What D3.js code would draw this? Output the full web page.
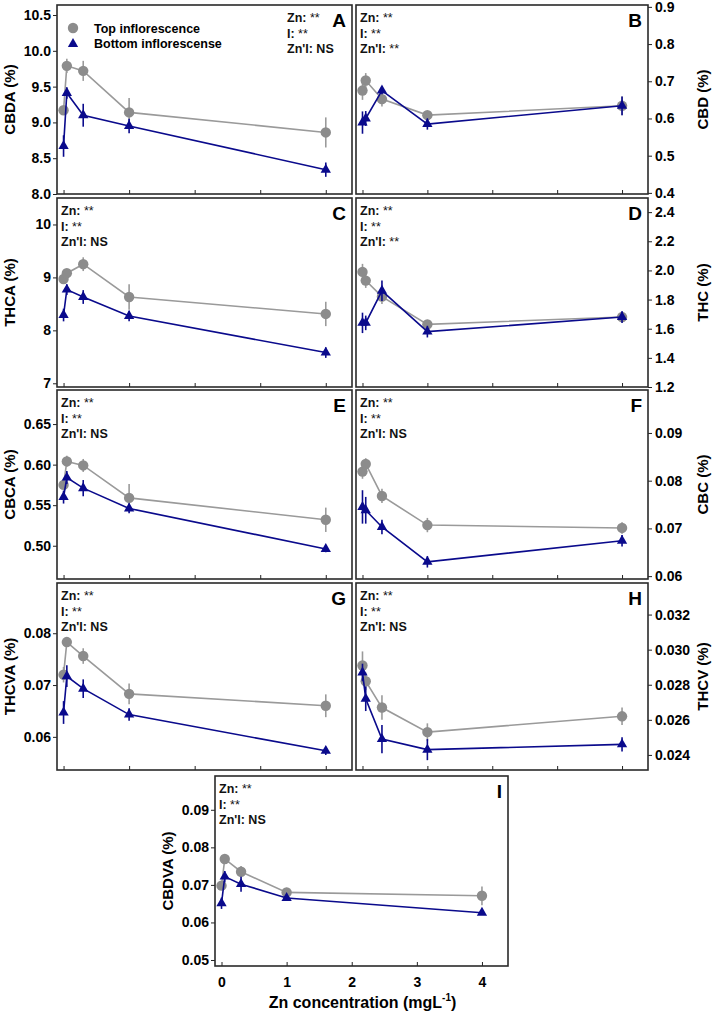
<!DOCTYPE html>
<meta charset="utf-8">
<style>
  body { margin: 0; background: #fff; }
  svg { display: block; font-family: "Liberation Sans", Arial, sans-serif; }
  .tick text { font-size: 14px; font-weight: bold; fill: #000; }
  .tick line { stroke: #222; }
</style>
<body>
<svg id="chart" width="717" height="1015"></svg>
<script src="https://d3js.org/d3.v7.min.js"></script>
<script>
  // Zn concentration levels (mg/L) and x tick labels
  const zn = [0, 0.05, 0.3, 1, 4];
  const xTicks = [0, 1, 2, 3, 4];

  // A: CBDA
  const cbdaTop = [9.17, 9.79, 9.72, 9.14, 8.86];
  const cbdaTopErr = [0.05, 0.10, 0.14, 0.20, 0.21];
  const cbdaBot = [8.67, 9.41, 9.10, 8.95, 8.34];
  const cbdaBotErr = [0.15, 0.08, 0.16, 0.10, 0.10];
  const cbdaTicks = [8.0, 8.5, 9.0, 9.5, 10.0, 10.5];

  // B: CBD
  const cbdTop = [0.675, 0.702, 0.652, 0.609, 0.634];
  const cbdTopErr = [0.025, 0.02, 0.02, 0.01, 0.025];
  const cbdBot = [0.589, 0.600, 0.675, 0.585, 0.634];
  const cbdBotErr = [0.03, 0.02, 0.01, 0.015, 0.025];
  const cbdTicks = [0.4, 0.5, 0.6, 0.7, 0.8, 0.9];

  // C: THCA
  const thcaTop = [8.97, 9.08, 9.25, 8.63, 8.31];
  const thcaTopErr = [0.05, 0.06, 0.13, 0.24, 0.23];
  const thcaBot = [8.29, 8.77, 8.63, 8.27, 7.58];
  const thcaBotErr = [0.12, 0.10, 0.13, 0.10, 0.10];
  const thcaTicks = [7, 8, 9, 10];

  // D: THC
  const thcTop = [1.99, 1.93, 1.82, 1.63, 1.68];
  const thcTopErr = [0.055, 0.05, 0.05, 0.02, 0.03];
  const thcBot = [1.64, 1.64, 1.86, 1.58, 1.68];
  const thcBotErr = [0.07, 0.05, 0.07, 0.04, 0.04];
  const thcTicks = [1.2, 1.4, 1.6, 1.8, 2.0, 2.2, 2.4];

  // E: CBCA
  const cbcaTop = [0.575, 0.604, 0.599, 0.559, 0.532];
  const cbcaTopErr = [0.005, 0.007, 0.008, 0.017, 0.015];
  const cbcaBot = [0.560, 0.584, 0.571, 0.546, 0.496];
  const cbcaBotErr = [0.008, 0.008, 0.01, 0.006, 0.004];
  const cbcaTicks = [0.50, 0.55, 0.60, 0.65];

  // F: CBC
  const cbcTop = [0.0819, 0.0835, 0.0768, 0.0707, 0.0701];
  const cbcTopErr = [0.0015, 0.0012, 0.0015, 0.0015, 0.0012];
  const cbcBot = [0.0745, 0.0738, 0.0703, 0.0630, 0.0674];
  const cbcBotErr = [0.0035, 0.0028, 0.0015, 0.0012, 0.0012];
  const cbcTicks = [0.06, 0.07, 0.08, 0.09];

  // G: THCVA
  const thcvaTop = [0.0720, 0.0783, 0.0756, 0.0683, 0.0660];
  const thcvaTopErr = [0.0015, 0.0008, 0.0015, 0.002, 0.0022];
  const thcvaBot = [0.0647, 0.0717, 0.0693, 0.0643, 0.0573];
  const thcvaBotErr = [0.0022, 0.0021, 0.0018, 0.0012, 0.0008];
  const thcvaTicks = [0.06, 0.07, 0.08];

  // H: THCV
  const thcvTop = [0.0291, 0.0282, 0.0267, 0.0253, 0.0262];
  const thcvTopErr = [0.0008, 0.0005, 0.0007, 0.0005, 0.0005];
  const thcvBot = [0.0287, 0.0272, 0.0249, 0.0243, 0.0246];
  const thcvBotErr = [0.0005, 0.0007, 0.0008, 0.0006, 0.0004];
  const thcvTicks = [0.024, 0.026, 0.028, 0.030, 0.032];

  // I: CBDVA
  const cbdvaTop = [0.0698, 0.0769, 0.0735, 0.0680, 0.0671];
  const cbdvaTopErr = [0.001, 0.0008, 0.0015, 0.0012, 0.0025];
  const cbdvaBot = [0.0651, 0.0722, 0.0702, 0.0665, 0.0626];
  const cbdvaBotErr = [0.0015, 0.0015, 0.002, 0.0007, 0.0006];
  const cbdvaTicks = [0.05, 0.06, 0.07, 0.08, 0.09];

  const seriesNames = ["Top inflorescence", "Bottom inflorescense"];

  const grey = "#8c8c8c", greyLine = "#9a9a9a", navy = "#0a0a8c";

  // panel layout
  const panels = [
    {id: "A", label: "CBDA (%)", side: "left", x0: 57, x1: 352, y0: 5, y1: 194, dom: [8.0, 10.64], ticks: cbdaTicks, fmt: ".1f",
     top: cbdaTop, topErr: cbdaTopErr, bot: cbdaBot, botErr: cbdaBotErr, stats: ["**", "**", "NS"], statsX: 287, legend: true},
    {id: "B", label: "CBD (%)", side: "right", x0: 356, x1: 648, y0: 5, y1: 194, dom: [0.397, 0.905], ticks: cbdTicks, fmt: ".1f",
     top: cbdTop, topErr: cbdTopErr, bot: cbdBot, botErr: cbdBotErr, stats: ["**", "**", "**"]},
    {id: "C", label: "THCA (%)", side: "left", x0: 57, x1: 352, y0: 198, y1: 387, dom: [6.93, 10.5], ticks: thcaTicks, fmt: "d",
     top: thcaTop, topErr: thcaTopErr, bot: thcaBot, botErr: thcaBotErr, stats: ["**", "**", "NS"]},
    {id: "D", label: "THC (%)", side: "right", x0: 356, x1: 648, y0: 198, y1: 387, dom: [1.2, 2.497], ticks: thcTicks, fmt: ".1f",
     top: thcTop, topErr: thcTopErr, bot: thcBot, botErr: thcBotErr, stats: ["**", "**", "**"]},
    {id: "E", label: "CBCA (%)", side: "left", x0: 57, x1: 352, y0: 390, y1: 579, dom: [0.459, 0.692], ticks: cbcaTicks, fmt: ".2f",
     top: cbcaTop, topErr: cbcaTopErr, bot: cbcaBot, botErr: cbcaBotErr, stats: ["**", "**", "NS"]},
    {id: "F", label: "CBC (%)", side: "right", x0: 356, x1: 648, y0: 390, y1: 579, dom: [0.0594, 0.099], ticks: cbcTicks, fmt: ".2f",
     top: cbcTop, topErr: cbcTopErr, bot: cbcBot, botErr: cbcBotErr, stats: ["**", "**", "NS"]},
    {id: "G", label: "THCVA (%)", side: "left", x0: 57, x1: 352, y0: 583, y1: 770, dom: [0.0536, 0.0897], ticks: thcvaTicks, fmt: ".2f",
     top: thcvaTop, topErr: thcvaTopErr, bot: thcvaBot, botErr: thcvaBotErr, stats: ["**", "**", "NS"]},
    {id: "H", label: "THCV (%)", side: "right", x0: 356, x1: 648, y0: 583, y1: 770, dom: [0.02314, 0.0338], ticks: thcvTicks, fmt: ".3f",
     top: thcvTop, topErr: thcvTopErr, bot: thcvBot, botErr: thcvBotErr, stats: ["**", "**", "NS"]},
    {id: "I", label: "CBDVA (%)", side: "left", x0: 215, x1: 508, y0: 776, y1: 966, dom: [0.0484, 0.099], ticks: cbdvaTicks, fmt: ".2f",
     top: cbdvaTop, topErr: cbdvaTopErr, bot: cbdvaBot, botErr: cbdvaBotErr, stats: ["**", "**", "NS"], xLabels: true}
  ];

  const svg = d3.select("#chart");
  svg.append("rect").attr("width", 717).attr("height", 1015).attr("fill", "#fff");

  const tri = d3.symbol().type(d3.symbolTriangle).size(46);

  panels.forEach(p => {
    const x = d3.scaleLinear().domain([-0.1, 4.4]).range([p.x0, p.x1]);
    const y = d3.scaleLinear().domain(p.dom).range([p.y1, p.y0]);
    const g = svg.append("g");

    // y axis
    if (p.side === "left") {
      g.append("g").attr("transform", `translate(${p.x0},0)`)
        .call(d3.axisLeft(y).tickValues(p.ticks).tickFormat(d3.format(p.fmt)).tickSizeInner(4).tickSizeOuter(0).tickPadding(2))
        .select(".domain").remove();
      g.append("text")
        .attr("transform", `translate(${p.x0 - 42},${(p.y0 + p.y1) / 2}) rotate(-90)`)
        .attr("text-anchor", "middle")
        .attr("font-size", 15).attr("font-weight", "bold")
        .text(p.label);
    } else {
      g.append("g").attr("transform", `translate(${p.x1},0)`)
        .call(d3.axisRight(y).tickValues(p.ticks).tickFormat(d3.format(p.fmt)).tickSizeInner(4).tickSizeOuter(0).tickPadding(3))
        .select(".domain").remove();
      g.append("text")
        .attr("transform", `translate(708,${(p.y0 + p.y1) / 2}) rotate(-90)`)
        .attr("text-anchor", "middle")
        .attr("font-size", 15).attr("font-weight", "bold")
        .text(p.label);
    }

    // x axis, ticks pointing inward
    const xa = g.append("g").attr("transform", `translate(0,${p.y1})`)
      .call(d3.axisBottom(x).tickValues(xTicks).tickFormat(d3.format("d")).tickSizeInner(-4).tickSizeOuter(0).tickPadding(11));
    xa.select(".domain").remove();
    if (!p.xLabels) xa.selectAll(".tick text").remove();

    // frame
    g.append("rect")
      .attr("x", p.x0).attr("y", p.y0)
      .attr("width", p.x1 - p.x0).attr("height", p.y1 - p.y0)
      .attr("fill", "none").attr("stroke", "#2a2a2a").attr("stroke-width", 1.6);

    // series
    const series = [
      {vals: p.top, err: p.topErr, color: grey, line: greyLine, shape: "circle"},
      {vals: p.bot, err: p.botErr, color: navy, line: navy, shape: "tri"}
    ];
    series.forEach(s => {
      const pts = zn.map((z, i) => ({x: z, v: s.vals[i], e: s.err[i]}));
      g.append("path").datum(pts)
        .attr("fill", "none").attr("stroke", s.line).attr("stroke-width", 1.6)
        .attr("d", d3.line().x(d => x(d.x)).y(d => y(d.v)));
      g.selectAll(null).data(pts).join("line")
        .attr("x1", d => x(d.x)).attr("x2", d => x(d.x))
        .attr("y1", d => y(d.v - d.e)).attr("y2", d => y(d.v + d.e))
        .attr("stroke", s.line).attr("stroke-width", 1.6);
      if (s.shape === "circle") {
        g.selectAll(null).data(pts).join("circle")
          .attr("cx", d => x(d.x)).attr("cy", d => y(d.v)).attr("r", 5.2)
          .attr("fill", s.color);
      } else {
        g.selectAll(null).data(pts).join("path")
          .attr("d", tri)
          .attr("transform", d => `translate(${x(d.x)},${y(d.v)})`)
          .attr("fill", s.color);
      }
    });

    // statistics text
    const sx = p.statsX || p.x0 + 4;
    const names = ["Zn: ", "I: ", "Zn'I: "];
    names.forEach((n, i) => {
      const t = g.append("text")
        .attr("x", sx).attr("y", p.y0 + 17 + i * 15.5)
        .attr("font-size", 12.5).attr("font-weight", "bold").attr("fill", "#111");
      t.append("tspan").text(n);
      t.append("tspan").attr("font-weight", p.stats[i] === "NS" ? "bold" : "normal").text(p.stats[i]);
    });

    // panel letter
    g.append("text")
      .attr("x", p.x1 - 6).attr("y", p.y0 + 22)
      .attr("text-anchor", "end")
      .attr("font-size", 19).attr("font-weight", "bold")
      .text(p.id);

    // legend
    if (p.legend) {
      g.append("circle").attr("cx", 73).attr("cy", 28).attr("r", 5.2).attr("fill", grey);
      g.append("path").attr("d", tri).attr("transform", "translate(73,44)").attr("fill", navy);
      seriesNames.forEach((n, i) => {
        g.append("text").attr("x", 94).attr("y", 32.5 + i * 15.5)
          .attr("font-size", 12.5).attr("font-weight", "bold").text(n);
      });
    }

    // x title
    if (p.xLabels) {
      const t = g.append("text")
        .attr("x", (p.x0 + p.x1) / 2 + 1).attr("y", 1008)
        .attr("text-anchor", "middle")
        .attr("font-size", 16).attr("font-weight", "bold");
      t.append("tspan").text("Zn concentration (mgL");
      t.append("tspan").attr("font-size", 10).attr("dy", -7).text("-1");
      t.append("tspan").attr("dy", 7).text(")");
    }
  });
</script>
</body>
